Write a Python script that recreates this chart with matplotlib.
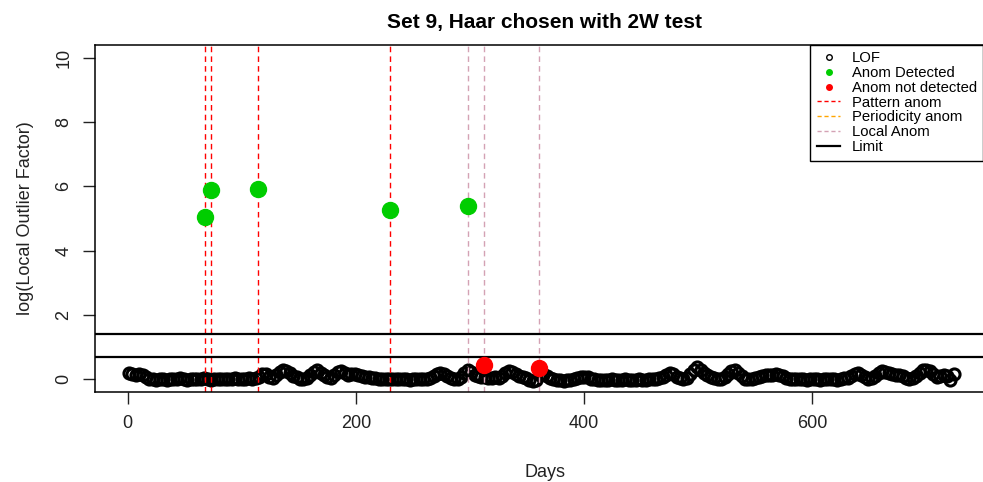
import matplotlib
matplotlib.use("Agg")
import matplotlib.pyplot as plt
from matplotlib.lines import Line2D

plt.rcParams['font.family'] = ['Liberation Sans', 'DejaVu Sans']

# LOF values, one every 3 days
days = list(range(1, 725, 3))
lof = [
    0.20, 0.17, 0.12, 0.15, 0.13, 0.06, 0.02, 0.00, -0.02, 0.01,
    0.00, -0.03, 0.02, 0.01, -0.01, 0.03, 0.00, -0.02, 0.01, 0.02,
    -0.01, 0.00, 0.03, 0.01, -0.02, 0.00, 0.02, 0.01, -0.01, 0.02,
    0.00, 0.03, -0.01, 0.02, 0.01, 0.04, 0.00, 0.03, 0.08, 0.16,
    0.15, 0.08, 0.04, 0.12, 0.22, 0.29, 0.26, 0.18, 0.10, 0.06,
    0.02, 0.00, 0.05, 0.14, 0.22, 0.27, 0.20, 0.12, 0.07, 0.05,
    0.14, 0.22, 0.24, 0.18, 0.13, 0.16, 0.17, 0.12, 0.10, 0.06,
    0.07, 0.05, 0.03, 0.02, 0.00, 0.01, -0.01, 0.00, 0.02, -0.01,
    0.00, 0.01, -0.02, 0.00, 0.01, 0.00, 0.02, 0.01, 0.05, 0.10,
    0.16, 0.20, 0.15, 0.09, 0.04, 0.00, 0.01, 0.08, 0.20, 0.27,
    0.22, 0.14, 0.10, 0.08, 0.06, 0.05, 0.04, 0.07, 0.05, 0.10,
    0.18, 0.24, 0.21, 0.15, 0.11, 0.07, 0.03, -0.04, -0.07, -0.02,
    0.12, 0.16, 0.09, 0.04, 0.00, -0.02, -0.03, -0.05, -0.04, -0.02,
    0.01, 0.04, 0.07, 0.08, 0.06, 0.02, -0.01, -0.04, -0.03, -0.02,
    -0.03, -0.01, -0.04, -0.02, -0.03, -0.01, -0.04, -0.02, -0.03, -0.01,
    -0.02, -0.03, 0.00, -0.01, 0.02, 0.04, 0.08, 0.14, 0.19, 0.15,
    0.08, 0.03, 0.00, 0.04, 0.15, 0.30, 0.37, 0.30, 0.19, 0.14,
    0.08, 0.03, 0.00, 0.02, 0.08, 0.16, 0.24, 0.27, 0.20, 0.10,
    0.02, 0.01, 0.00, 0.03, 0.06, 0.10, 0.13, 0.12, 0.14, 0.16,
    0.13, 0.09, 0.05, 0.02, 0.00, 0.01, -0.01, 0.00, -0.02, 0.00,
    -0.01, 0.01, -0.02, 0.00, -0.01, 0.01, 0.00, -0.02, 0.01, 0.03,
    0.05, 0.10, 0.15, 0.19, 0.14, 0.06, 0.00, 0.03, 0.10, 0.18,
    0.24, 0.22, 0.18, 0.15, 0.13, 0.14, 0.10, 0.04, 0.00, 0.03,
    0.10, 0.20, 0.27, 0.29, 0.24, 0.15, 0.07, 0.09, 0.13, 0.11,
    -0.03, 0.16,
]

detected_days = [68, 73, 114, 230, 298]
detected_vals = [5.05, 5.87, 5.91, 5.27, 5.38]
missed_days = [312, 360]
missed_vals = [0.44, 0.35]

pattern_days = [68, 73, 114, 230]
local_days = [298, 312, 360]
limits = [0.68, 1.41]

fig = plt.figure(figsize=(9.83, 4.82), dpi=100)
ax = fig.add_axes([0.097, 0.1867, 0.914, 0.7205])

ax.plot(days, lof, linestyle="none", marker="o", markersize=8,
        markerfacecolor="none", markeredgecolor="black", markeredgewidth=2.2)

for d in pattern_days:
    ax.axvline(d, color="red", linestyle=(0, (4, 3)), linewidth=1.0)
for d in local_days:
    ax.axvline(d, color="#d4a2b4", linestyle=(0, (4, 3)), linewidth=1.0)
for h in limits:
    ax.axhline(h, color="black", linewidth=1.6)

ax.plot(detected_days, detected_vals, linestyle="none", marker="o",
        markersize=11.5, color="#00cd00")
ax.plot(missed_days, missed_vals, linestyle="none", marker="o",
        markersize=11.5, color="red")

ax.set_xlim(-28.4, 759)
ax.set_ylim(-0.4, 10.4)
ax.set_xticks([0, 200, 400, 600])
ax.set_yticks([0, 2, 4, 6, 8, 10])
ax.tick_params(direction="out", length=8.6, width=1, labelsize=13, pad=8,
               colors="#222222")
plt.setp(ax.get_yticklabels(), rotation=90, va="center")
for s in ax.spines.values():
    s.set_linewidth(1.1)

ax.set_title("Set 9, Haar chosen with 2W test", fontsize=15, fontweight="bold", pad=12)
ax.set_xlabel("Days", fontsize=13, labelpad=23, color="#222222")
ax.set_ylabel("log(Local Outlier Factor)", fontsize=13, labelpad=15, color="#222222")

handles = [
    Line2D([], [], linestyle="none", marker="o", markersize=4, markerfacecolor="none",
           markeredgecolor="black"),
    Line2D([], [], linestyle="none", marker="o", markersize=4, color="#00cd00"),
    Line2D([], [], linestyle="none", marker="o", markersize=4, color="red"),
    Line2D([], [], color="red", linestyle=(0, (3, 2)), linewidth=1),
    Line2D([], [], color="orange", linestyle=(0, (3, 2)), linewidth=1),
    Line2D([], [], color="#d4a2b4", linestyle=(0, (3, 2)), linewidth=1),
    Line2D([], [], color="black", linewidth=1.6),
]
labels = ["LOF", "Anom Detected", "Anom not detected", "Pattern anom",
          "Periodicity anom", "Local Anom", "Limit"]
leg = ax.legend(handles, labels, loc="upper left", bbox_to_anchor=(0.7954, 1),
                borderaxespad=0, fancybox=False, edgecolor="black", fontsize=10.7,
                labelspacing=0.05, handlelength=1.6, handletextpad=0.75,
                borderpad=0.45, framealpha=1)
leg.get_frame().set_linewidth(1.0)

fig.savefig("out.png", dpi=100)
